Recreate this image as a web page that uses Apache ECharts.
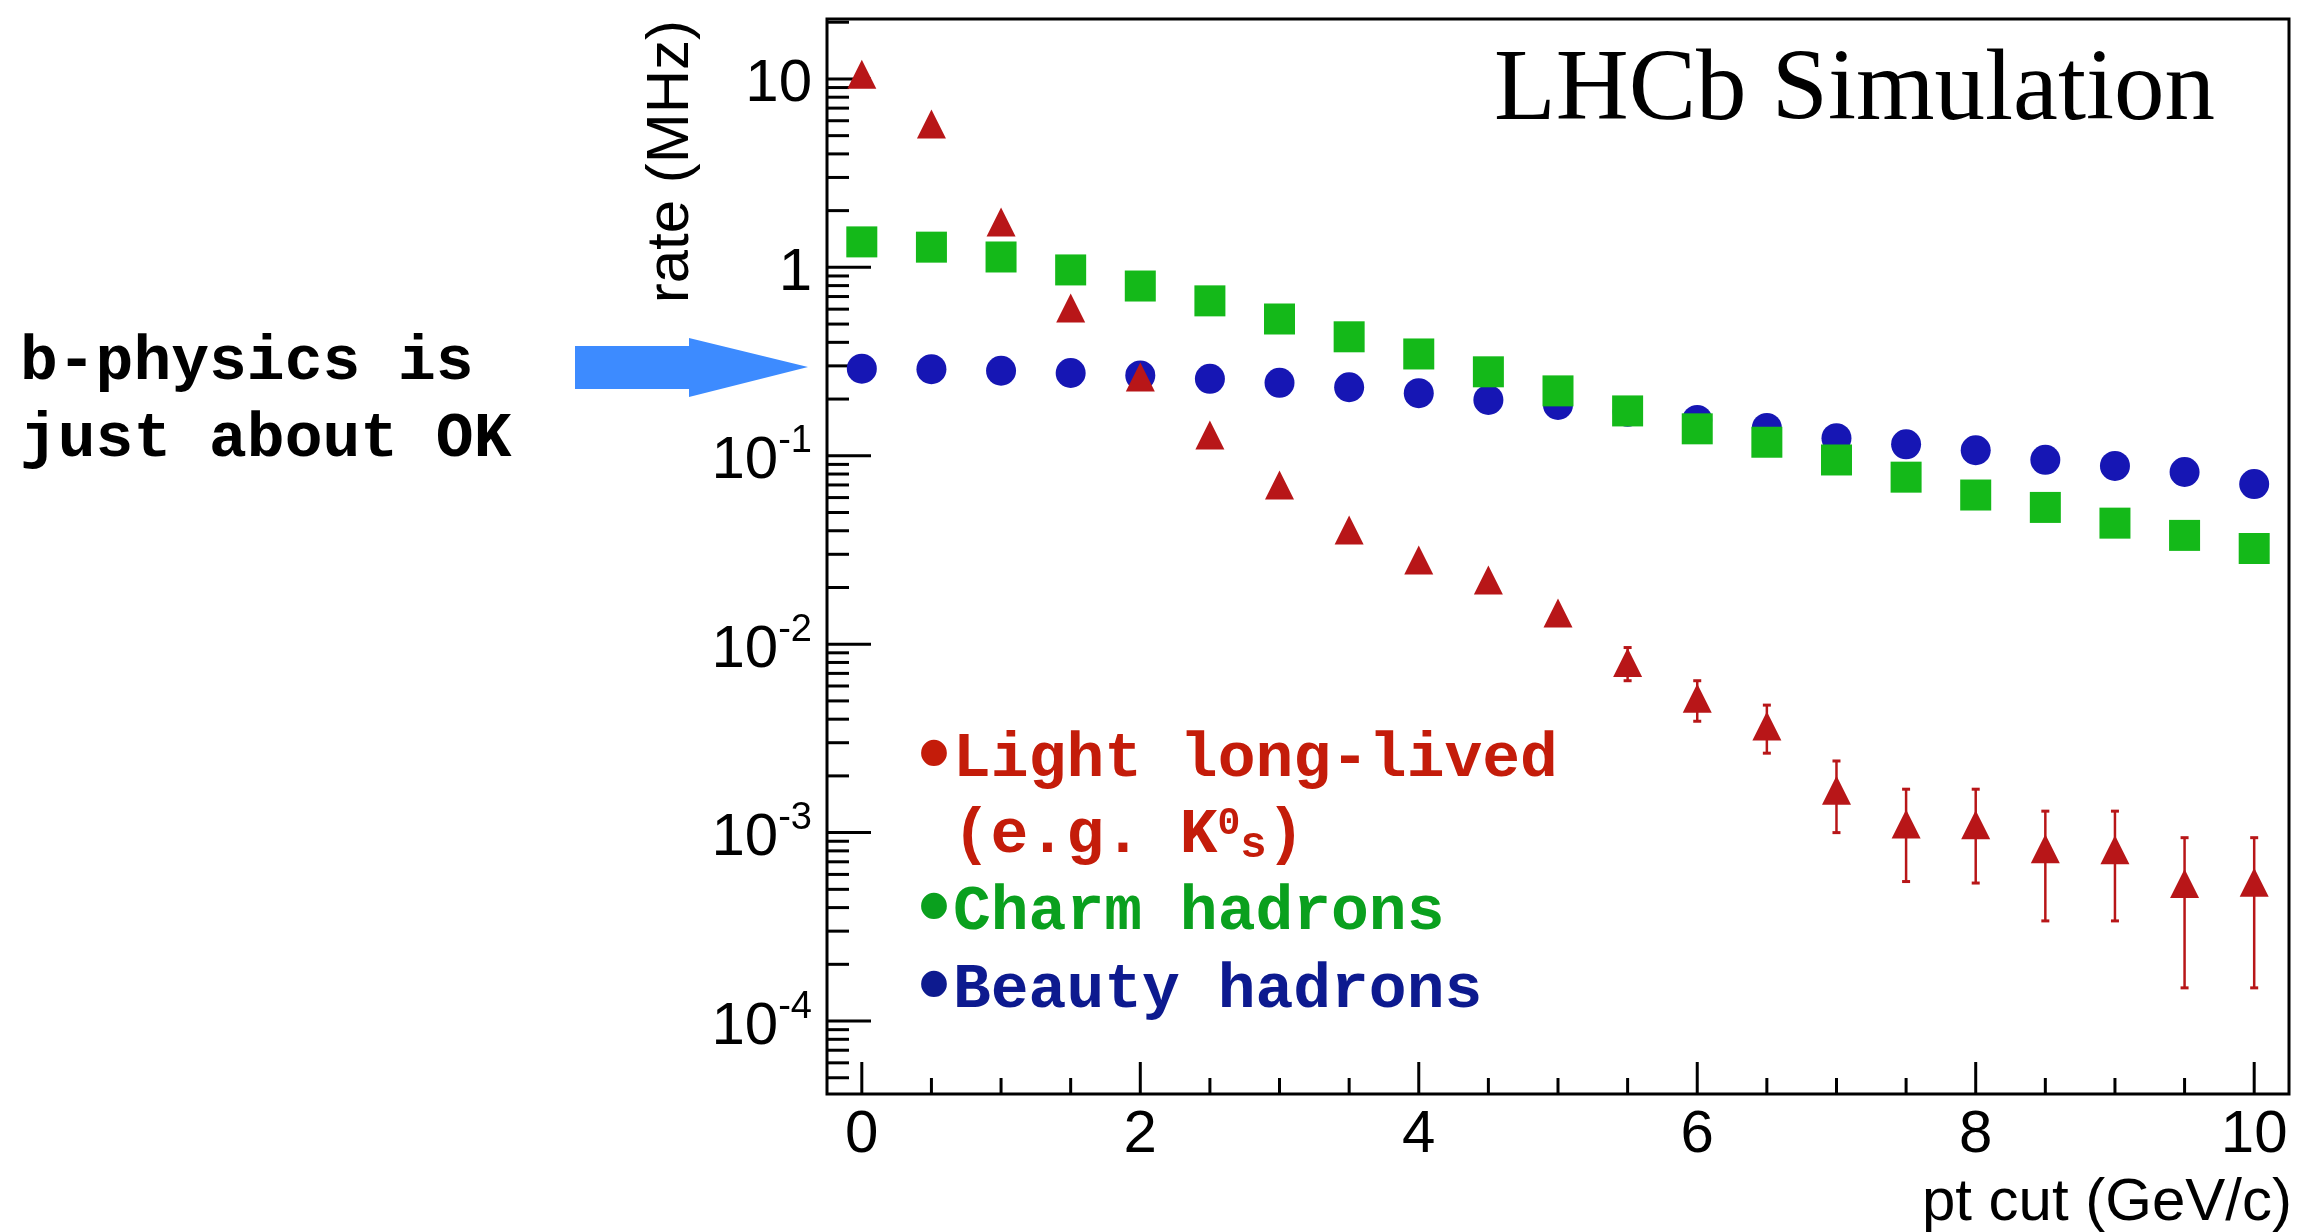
<!DOCTYPE html>
<html>
<head>
<meta charset="utf-8">
<style>
	html, body { margin: 0; padding: 0; background: #fff; }
	#chart { width: 2299px; height: 1232px; }
</style>
<script src="https://cdn.jsdelivr.net/npm/echarts@6/dist/echarts.min.js"></script>
</head>
<body>
<div id="chart"></div>
<script>
// pt cut values (GeV/c)
var pt_cut = [0, 0.5, 1, 1.5, 2, 2.5, 3, 3.5, 4, 4.5, 5, 5.5, 6, 6.5, 7, 7.5, 8, 8.5, 9, 9.5, 10];

// rates in MHz
var light_rate = [10.6, 5.77, 1.74, 0.609, 0.262, 0.129, 0.070, 0.0404, 0.028, 0.0219, 0.01466,
	0.0080, 0.00517, 0.00368, 0.00168, 0.00111, 0.0011, 0.00082, 0.00081, 0.000537, 0.000545];
var light_err_low = [null, null, null, null, null, null, null, null, null, null, null,
	0.0064, 0.0039, 0.00264, 0.0010, 0.00055, 0.00054, 0.00034, 0.00034, 0.00015, 0.00015];
var light_err_high = [null, null, null, null, null, null, null, null, null, null, null,
	0.0096, 0.0064, 0.00475, 0.0024, 0.0017, 0.0017, 0.0013, 0.0013, 0.00094, 0.00094];
var charm_rate = [1.365, 1.28, 1.135, 0.969, 0.796, 0.664, 0.532, 0.428, 0.347, 0.279, 0.221,
	0.173, 0.139, 0.118, 0.095, 0.077, 0.0619, 0.0532, 0.0439, 0.0378, 0.0322];
var beauty_rate = [0.290, 0.288, 0.2826, 0.275, 0.267, 0.256, 0.244, 0.231, 0.215, 0.198, 0.186,
	0.171, 0.155, 0.1406, 0.124, 0.115, 0.107, 0.0952, 0.0883, 0.082, 0.0708];

// axis ranges and ticks
var x_min = -0.25, x_max = 10.25;
var y_min = 4.1e-5, y_max = 20.8;
var x_major_ticks = [0, 2, 4, 6, 8, 10];
var x_minor_ticks = [0.5, 1, 1.5, 2.5, 3, 3.5, 4.5, 5, 5.5, 6.5, 7, 7.5, 8.5, 9, 9.5];
var y_major_ticks = [1e-4, 1e-3, 1e-2, 1e-1, 1, 10];
var y_minor_mantissa = [2, 3, 4, 5, 6, 7, 8, 9];
var y_decades = [-5, -4, -3, -2, -1, 0, 1];

var SANS = '"Liberation Sans", Arial, Helvetica, sans-serif';
var MONO = '"Courier New", "Liberation Mono", monospace';
var SERIF = '"Liberation Serif", "Times New Roman", serif';

var y_minor_ticks = [];
y_decades.forEach(function (d) {
	y_minor_mantissa.forEach(function (m) {
		var v = m * Math.pow(10, d);
		if (v > y_min && v < y_max) y_minor_ticks.push(v);
	});
});

function zip(xs, ys) {
	return xs.map(function (x, i) { return [x, ys[i]]; });
}

var err_data = [];
pt_cut.forEach(function (x, i) {
	if (light_err_low[i] != null) err_data.push([x, light_err_low[i], light_err_high[i]]);
});

// tick marks drawn inward from the frame, ROOT style
function xTicks(name, values, len) {
	return {
		name: name, type: 'custom', silent: true, z: 5,
		data: values.map(function (v) { return [v, y_min]; }),
		renderItem: function (params, api) {
			var cs = params.coordSys;
			var p = api.coord([api.value(0), y_min]);
			var yb = cs.y + cs.height;
			return { type: 'line', shape: { x1: p[0], y1: yb, x2: p[0], y2: yb - len }, style: { stroke: '#000', lineWidth: 3 } };
		}
	};
}
function yTicks(name, values, len) {
	return {
		name: name, type: 'custom', silent: true, z: 5,
		data: values.map(function (v) { return [x_min, v]; }),
		renderItem: function (params, api) {
			var cs = params.coordSys;
			var p = api.coord([x_min, api.value(1)]);
			return { type: 'line', shape: { x1: cs.x, y1: p[1], x2: cs.x + len, y2: p[1] }, style: { stroke: '#000', lineWidth: 3 } };
		}
	};
}

// legend lines: bullet drawn bigger but kept in one mono cell
function legendStyle(text, color) {
	return {
		text: text,
		fill: color, align: 'left', verticalAlign: 'middle',
		font: 'bold 63px ' + MONO,
		lineHeight: 70,
		rich: {
			dot: { font: 'bold 90px ' + MONO, fill: color, width: 38, align: 'center', lineHeight: 70 },
			b: { font: 'bold 63px ' + MONO, fill: color, lineHeight: 70 },
			sup: { font: 'bold 38px ' + MONO, fill: color, lineHeight: 70, height: 46, verticalAlign: 'top' },
			sub: { font: 'bold 44px ' + MONO, fill: color, lineHeight: 70, height: 50, verticalAlign: 'bottom' }
		}
	};
}

var chart = echarts.init(document.getElementById('chart'));

var option = {
	animation: false,
	backgroundColor: '#fff',
	grid: {
		left: 827, right: 10, top: 19, bottom: 138,
		show: true,
		borderColor: '#000',
		borderWidth: 3,
		containLabel: false,
		outerBoundsMode: 'none'
	},
	xAxis: {
		type: 'value',
		min: x_min,
		max: x_max,
		position: 'bottom',
		splitLine: { show: false },
		axisLine: { show: false, onZero: false },
		axisTick: { show: false },
		axisLabel: {
			margin: 9,
			color: '#000',
			fontFamily: SANS,
			fontSize: 60,
			lineHeight: 64,
			showMinLabel: false,
			showMaxLabel: false,
			formatter: function (v) {
				if (Math.abs(v - Math.round(v)) > 1e-6) return '';
				return String(Math.round(v));
			}
		}
	},
	yAxis: {
		type: 'log',
		logBase: 10,
		min: y_min,
		max: y_max,
		position: 'left',
		splitLine: { show: false },
		axisLine: { show: false, onZero: false },
		axisTick: { show: false },
		axisLabel: {
			margin: 15,
			padding: [12, 0, 0, 0],
			showMinLabel: false,
			showMaxLabel: false,
			formatter: function (v) {
				var p = Math.log10(v);
				var e = Math.round(p);
				if (Math.abs(p - e) > 1e-6) return '';
				if (e === 0) return '{b|1}';
				if (e === 1) return '{b|10}';
				return '{b|10}{s|' + e + '}';
			},
			rich: {
				b: { fontFamily: SANS, fontSize: 60, lineHeight: 64, color: '#000' },
				s: { fontFamily: SANS, fontSize: 38, lineHeight: 24, height: 24, verticalAlign: 'top', color: '#000' }
			}
		}
	},
	graphic: [
		{
			type: 'text', x: 671, y: 20, rotation: Math.PI / 2,
			style: { text: 'rate (MHz)', font: '60px ' + SANS, fill: '#000', align: 'right', verticalAlign: 'middle' }
		},
		{
			type: 'text', x: 2292, y: 1203,
			style: { text: 'pt cut (GeV/c)', font: '60px ' + SANS, fill: '#000', align: 'right', verticalAlign: 'middle' }
		},
		{
			type: 'text', x: 1494, y: 92,
			style: { text: 'LHCb Simulation', font: '101px ' + SERIF, fill: '#000', align: 'left', verticalAlign: 'middle' }
		},
		{
			type: 'text', x: 20, y: 363,
			style: { text: 'b-physics is', font: 'bold 63px ' + MONO, fill: '#000', align: 'left', verticalAlign: 'middle' }
		},
		{
			type: 'text', x: 20, y: 440,
			style: { text: 'just about OK', font: 'bold 63px ' + MONO, fill: '#000', align: 'left', verticalAlign: 'middle' }
		},
		{
			type: 'polygon',
			shape: { points: [[575, 346], [689, 346], [689, 338], [808, 367], [689, 397], [689, 389], [575, 389]] },
			style: { fill: '#3d8bff' }
		},
		{ type: 'text', x: 915, y: 760, style: legendStyle('{dot|\u2022}{b|Light long-lived}', '#c41c0a') },
		{ type: 'text', x: 915, y: 836, style: legendStyle('{b| (e.g. K}{sup|0}{sub|s}{b|)}', '#c41c0a') },
		{ type: 'text', x: 915, y: 913, style: legendStyle('{dot|\u2022}{b|Charm hadrons}', '#0aa01e') },
		{ type: 'text', x: 915, y: 991, style: legendStyle('{dot|\u2022}{b|Beauty hadrons}', '#0d1a8f') }
	],
	series: [
		xTicks('x major ticks', x_major_ticks, 32),
		xTicks('x minor ticks', x_minor_ticks, 16),
		yTicks('y major ticks', y_major_ticks, 44),
		yTicks('y minor ticks', y_minor_ticks, 22),
		{
			name: 'Beauty hadrons',
			type: 'scatter',
			z: 10,
			symbol: 'circle',
			symbolSize: 30,
			itemStyle: { color: '#1616b4', opacity: 1 },
			data: zip(pt_cut, beauty_rate)
		},
		{
			name: 'Charm hadrons',
			type: 'scatter',
			z: 11,
			symbol: 'rect',
			symbolSize: [31, 31],
			itemStyle: { color: '#14b919', opacity: 1 },
			data: zip(pt_cut, charm_rate)
		},
		{
			name: 'Light errors',
			type: 'custom',
			silent: true,
			z: 12,
			data: err_data,
			renderItem: function (params, api) {
				var x = api.value(0);
				var lo = api.coord([x, api.value(1)]);
				var hi = api.coord([x, api.value(2)]);
				var st = { stroke: '#b81618', lineWidth: 2.5 };
				return {
					type: 'group',
					children: [
						{ type: 'line', shape: { x1: lo[0], y1: lo[1], x2: hi[0], y2: hi[1] }, style: st },
						{ type: 'line', shape: { x1: lo[0] - 4, y1: lo[1], x2: lo[0] + 4, y2: lo[1] }, style: { stroke: '#b81618', lineWidth: 3 } },
						{ type: 'line', shape: { x1: hi[0] - 4, y1: hi[1], x2: hi[0] + 4, y2: hi[1] }, style: { stroke: '#b81618', lineWidth: 3 } }
					]
				};
			}
		},
		{
			name: 'Light long-lived',
			type: 'scatter',
			z: 13,
			symbol: 'triangle',
			symbolSize: [29, 29],
			itemStyle: { color: '#b81618', opacity: 1 },
			data: zip(pt_cut, light_rate)
		}
	]
};

chart.setOption(option);
</script>
</body>
</html>
